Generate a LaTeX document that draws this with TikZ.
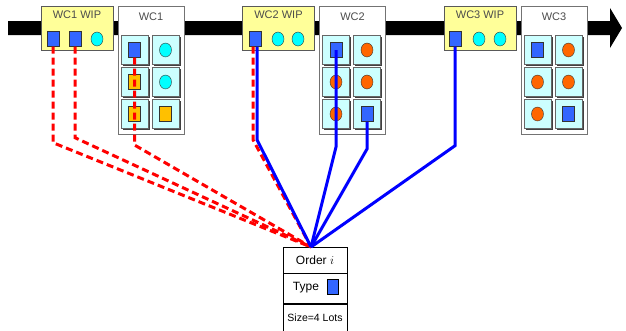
\documentclass[tikz,border=0pt]{standalone}
\usepackage{fontspec}
\setmainfont{Liberation Sans}
\usetikzlibrary{positioning,shapes.geometric,shadows}

\definecolor{wipyellow}{HTML}{FFFF99}
\definecolor{cellcyan}{HTML}{CCFFFF}
\definecolor{lotblue}{HTML}{3366FF}
\definecolor{lotcyan}{HTML}{00FFFF}
\definecolor{lotorange}{HTML}{FF6600}
\definecolor{lotyellow}{HTML}{FFC000}

\tikzset{
  wipbox/.style={draw=black!65, fill=wipyellow, minimum width=72pt, minimum height=44pt, inner sep=0pt},
  wcbox/.style={draw=black!55, fill=white, minimum width=66pt, minimum height=128pt, inner sep=0pt},
  cell/.style={draw=black!60, fill=cellcyan, minimum width=27pt, minimum height=29pt, inner sep=0pt,
    drop shadow={shadow xshift=1.5pt, shadow yshift=-1.5pt, fill=black!75, opacity=1}},
  boxlabel/.style={text=black!70, font=\fontsize{11}{13}\selectfont, inner sep=0pt},
  sqlot/.style={draw=black!80, fill=#1, minimum width=12pt, minimum height=15pt, inner sep=0pt},
  cirlot/.style={ellipse, draw=black!80, fill=#1, minimum width=12pt, minimum height=14pt, inner sep=0pt},
  orderrow/.style={draw, minimum width=64pt, inner sep=0pt},
  redlink/.style={draw=red, line width=3pt, dash pattern=on 7pt off 4pt},
  bluelink/.style={draw=blue, line width=3pt}
}

\begin{document}
\begin{tikzpicture}[x=1pt,y=-1pt]
  \useasboundingbox (0,0) rectangle (626,330);
  % flow arrow
  \fill (8,21) -- (610,21) -- (610,8) -- (622,28) -- (610,48) -- (610,35) -- (8,35) -- cycle;

  % work centres
  \node[wipbox] (wip1) at (77,28) {};
  \node[boxlabel] (wip1lab) at (77,15) {WC1 WIP};
  \node[wcbox] (wc1) at (151,70) {};
  \node[boxlabel] (wc1lab) at (151,17) {WC1};
  \node[wipbox] (wip2) at (278.5,28) {};
  \node[boxlabel] (wip2lab) at (278.5,15) {WC2 WIP};
  \node[wcbox] (wc2) at (352.5,70) {};
  \node[boxlabel] (wc2lab) at (352.5,17) {WC2};
  \node[wipbox] (wip3) at (480,28) {};
  \node[boxlabel] (wip3lab) at (480,15) {WC3 WIP};
  \node[wcbox] (wc3) at (554,70) {};
  \node[boxlabel] (wc3lab) at (554,17) {WC3};

  \foreach \wc/\xa/\xb in {1/134.5/165.5, 2/336/367, 3/537.5/568.5} {
    \foreach \r/\y in {1/50, 2/82, 3/114} {
      \node[cell] (c\wc\r a) at (\xa,\y) {};
      \node[cell] (c\wc\r b) at (\xb,\y) {};
    }
  }

  % lots waiting
  \node[sqlot=lotblue] (w1a) at (53,39) {};
  \node[sqlot=lotblue] (w1b) at (75,39) {};
  \node[cirlot=lotcyan] (w1c) at (97,39) {};
  \node[sqlot=lotblue] (w2a) at (255,39) {};
  \node[cirlot=lotcyan] (w2b) at (278,39) {};
  \node[cirlot=lotcyan] (w2c) at (298,39) {};
  \node[sqlot=lotblue] (w3a) at (455,39) {};
  \node[cirlot=lotcyan] (w3b) at (479,39) {};
  \node[cirlot=lotcyan] (w3c) at (500,39) {};

  % lots in process
  \node[sqlot=lotblue] (p11a) at (c11a) {};
  \node[cirlot=lotcyan] (p11b) at (c11b) {};
  \node[sqlot=lotyellow] (p12a) at (c12a) {};
  \node[cirlot=lotcyan] (p12b) at (c12b) {};
  \node[sqlot=lotyellow] (p13a) at (c13a) {};
  \node[sqlot=lotyellow] (p13b) at (c13b) {};
  \node[sqlot=lotblue] (p21a) at (c21a) {};
  \node[cirlot=lotorange] (p21b) at (c21b) {};
  \node[cirlot=lotorange] (p22a) at (c22a) {};
  \node[cirlot=lotorange] (p22b) at (c22b) {};
  \node[cirlot=lotorange] (p23a) at (c23a) {};
  \node[sqlot=lotblue] (p23b) at (c23b) {};
  \node[sqlot=lotblue] (p31a) at (c31a) {};
  \node[cirlot=lotorange] (p31b) at (c31b) {};
  \node[cirlot=lotorange] (p32a) at (c32a) {};
  \node[cirlot=lotorange] (p32b) at (c32b) {};
  \node[cirlot=lotorange] (p33a) at (c33a) {};
  \node[sqlot=lotblue] (p33b) at (c33b) {};

  % order
  \node[orderrow, minimum height=26pt, font=\fontsize{12}{14}\selectfont] (ordA) at (315,260) {Order $i$};
  \node[orderrow, minimum height=30pt, below=0pt of ordA] (ordB) {};
  \node[orderrow, minimum height=27pt, font=\fontsize{10.5}{12}\selectfont, below=0pt of ordB] (ordC) {Size=4 Lots};
  \node[font=\fontsize{12}{14}\selectfont, inner sep=0pt] (typelab) at (306,288) {Type};
  \node[sqlot=lotblue, minimum width=11pt, draw=black] (typesq) at (332.5,287) {};
  \coordinate (apex) at (311,247);

  % links
  \draw[redlink] (w1a.south) -- ++(0,96) -- (apex);
  \draw[redlink] (w1b.south) -- ++(0,91) -- (apex);
  \draw[redlink] (p11a.south) -- (134.5,145) -- (apex);
  \draw[redlink] ([xshift=-2pt]w2a.south) -- ++(0,93) -- (apex);
  \draw[bluelink] ([xshift=2pt]w2a.south) -- ++(0,93) -- (apex);
  \draw[bluelink] (p21a.center) -- (336,147) -- (apex);
  \draw[bluelink] (p23b.south) -- (367,149) -- (apex);
  \draw[bluelink] (w3a.south) -- ++(0,99) -- (apex);
\end{tikzpicture}
\end{document}
